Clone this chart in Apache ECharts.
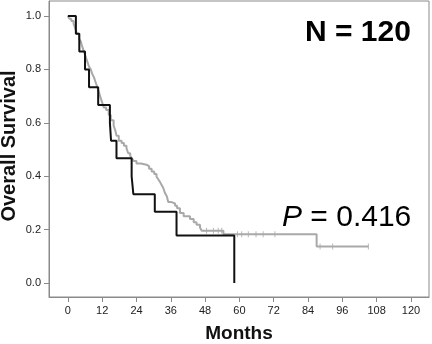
<!DOCTYPE html>
<html>
<head>
<meta charset="utf-8">
<script src="https://cdn.jsdelivr.net/npm/echarts@6/dist/echarts.min.js"></script>
<style>
html,body{margin:0;padding:0;background:#fff;}
#chart{width:432px;height:344px;}
</style>
</head>
<body>
<div id="chart"></div>
<script>
// Grey group (larger group): event times (months) and survival after each step
const greyTimes = [0, 0.5, 1.2, 2.0, 2.6, 3.2, 3.9, 4.5, 5.0, 5.6, 6.2, 6.8, 7.4, 8.0, 8.6, 9.1, 9.7, 10.3, 10.9, 11.4, 12.0, 12.6, 13.4, 14.3, 15.0, 16.0, 16.6, 17.0, 17.8, 18.8, 19.6, 20.5, 21.1, 21.8, 22.4, 23.0, 24.0, 25.5, 27.5, 28.4, 29.3, 30.2, 31.0, 31.6, 32.2, 32.8, 33.4, 34.0, 34.6, 35.1, 36.0, 37.5, 38.2, 39.2, 40.5, 42.7, 44.0, 45.0, 46.2, 46.8, 54.4, 87.0, 105.1];
const greySurv  = [1.0, 0.990, 0.981, 0.971, 0.952, 0.933, 0.914, 0.905, 0.886, 0.867, 0.848, 0.829, 0.810, 0.800, 0.781, 0.771, 0.752, 0.733, 0.714, 0.695, 0.676, 0.657, 0.648, 0.629, 0.610, 0.590, 0.571, 0.552, 0.533, 0.524, 0.514, 0.505, 0.486, 0.476, 0.467, 0.457, 0.448, 0.443, 0.438, 0.428, 0.418, 0.408, 0.398, 0.389, 0.379, 0.367, 0.355, 0.336, 0.325, 0.304, 0.298, 0.290, 0.280, 0.262, 0.250, 0.240, 0.228, 0.218, 0.208, 0.196, 0.183, 0.137, 0.137];
// Grey censor marks
const greyCensorTimes = [48.5, 50.9, 52.6, 53.8, 59.3, 60.8, 63.1, 65.8, 68.3, 72.4, 88.2, 92.6, 105.1];
const greyCensorSurv  = [0.196, 0.196, 0.196, 0.196, 0.183, 0.183, 0.183, 0.183, 0.183, 0.183, 0.137, 0.137, 0.137];
// Black group (smaller group)
const blackTimes = [0, 2.8, 4.0, 6.0, 7.4, 10.6, 14.7, 15.1, 17.0, 22.3, 22.9, 30.4, 38.0, 58.2];
const blackSurv  = [1.0, 0.933, 0.867, 0.800, 0.733, 0.667, 0.600, 0.533, 0.467, 0.400, 0.333, 0.267, 0.178, 0.0];
// Axis ticks
const xTicks = [0, 12, 24, 36, 48, 60, 72, 84, 96, 108, 120];
const yTicks = [0.0, 0.2, 0.4, 0.6, 0.8, 1.0];
const nLabel = 'N = 120';
const pLabel = '0.416';
const yTitle = 'Overall Survival';

const zip = (a, b) => a.map((v, i) => [v, b[i]]);

const chart = echarts.init(document.getElementById('chart'), null, {renderer: 'canvas'});
const axisGrey = '#8a8a8a';
chart.setOption({
  animation: false,
  textStyle: {fontFamily: 'Liberation Sans, Arial, sans-serif'},
  grid: {left: 49, top: 1, right: 3, bottom: 47, show: true, borderColor: axisGrey, borderWidth: 1,
         containLabel: false, outerBoundsMode: 'none'},
  xAxis: {
    type: 'value', min: -6.6, max: 126.3,
    splitLine: {show: false},
    axisLine: {show: true, onZero: false, lineStyle: {color: axisGrey, width: 1}},
    axisTick: {show: true, length: 5, customValues: xTicks, lineStyle: {color: axisGrey}},
    axisLabel: {customValues: xTicks, margin: 8, fontSize: 11, color: '#222'},
    name: 'Months', nameLocation: 'middle', nameGap: 27,
    nameTextStyle: {fontSize: 19, fontWeight: 'bold', color: '#111'}
  },
  yAxis: {
    type: 'value', min: -0.052, max: 1.056,
    splitLine: {show: false},
    axisLine: {show: true, onZero: false, lineStyle: {color: axisGrey, width: 1}},
    axisTick: {show: true, length: 5, customValues: yTicks, lineStyle: {color: axisGrey}},
    axisLabel: {customValues: yTicks, margin: 8, fontSize: 11, color: '#222', formatter: v => v.toFixed(1)}
  },
  series: [
    {type: 'line', step: 'end', data: zip(greyTimes, greySurv), showSymbol: false,
     lineStyle: {color: '#a9a9a9', width: 2}, z: 2},
    {type: 'scatter', data: zip(greyCensorTimes, greyCensorSurv), symbol: 'rect', symbolSize: [1, 6],
     itemStyle: {color: '#a9a9a9'}, z: 2},
    {type: 'line', step: 'end', data: zip(blackTimes, blackSurv), showSymbol: false,
     lineStyle: {color: '#111', width: 2}, z: 3}
  ],
  graphic: [
    {type: 'text', x: 9, y: 146, rotation: Math.PI / 2,
     style: {text: yTitle, font: 'bold 20px "Liberation Sans", Arial, sans-serif', fill: '#111', textAlign: 'center', textVerticalAlign: 'middle'}},
    {type: 'text', x: 305, y: 33, style: {text: nLabel, font: 'bold 30px "Liberation Sans", Arial, sans-serif', fill: '#000', textVerticalAlign: 'middle', textAlign: 'left'}},
    {type: 'text', x: 282, y: 218, style: {text: '{i|P} = ' + pLabel, fill: '#000', textVerticalAlign: 'middle', textAlign: 'left',
      font: '30px "Liberation Sans", Arial, sans-serif',
      rich: {i: {fontStyle: 'italic', fontSize: 30, fontFamily: 'Liberation Sans, Arial, sans-serif'}}}}
  ]
});
</script>
</body>
</html>
